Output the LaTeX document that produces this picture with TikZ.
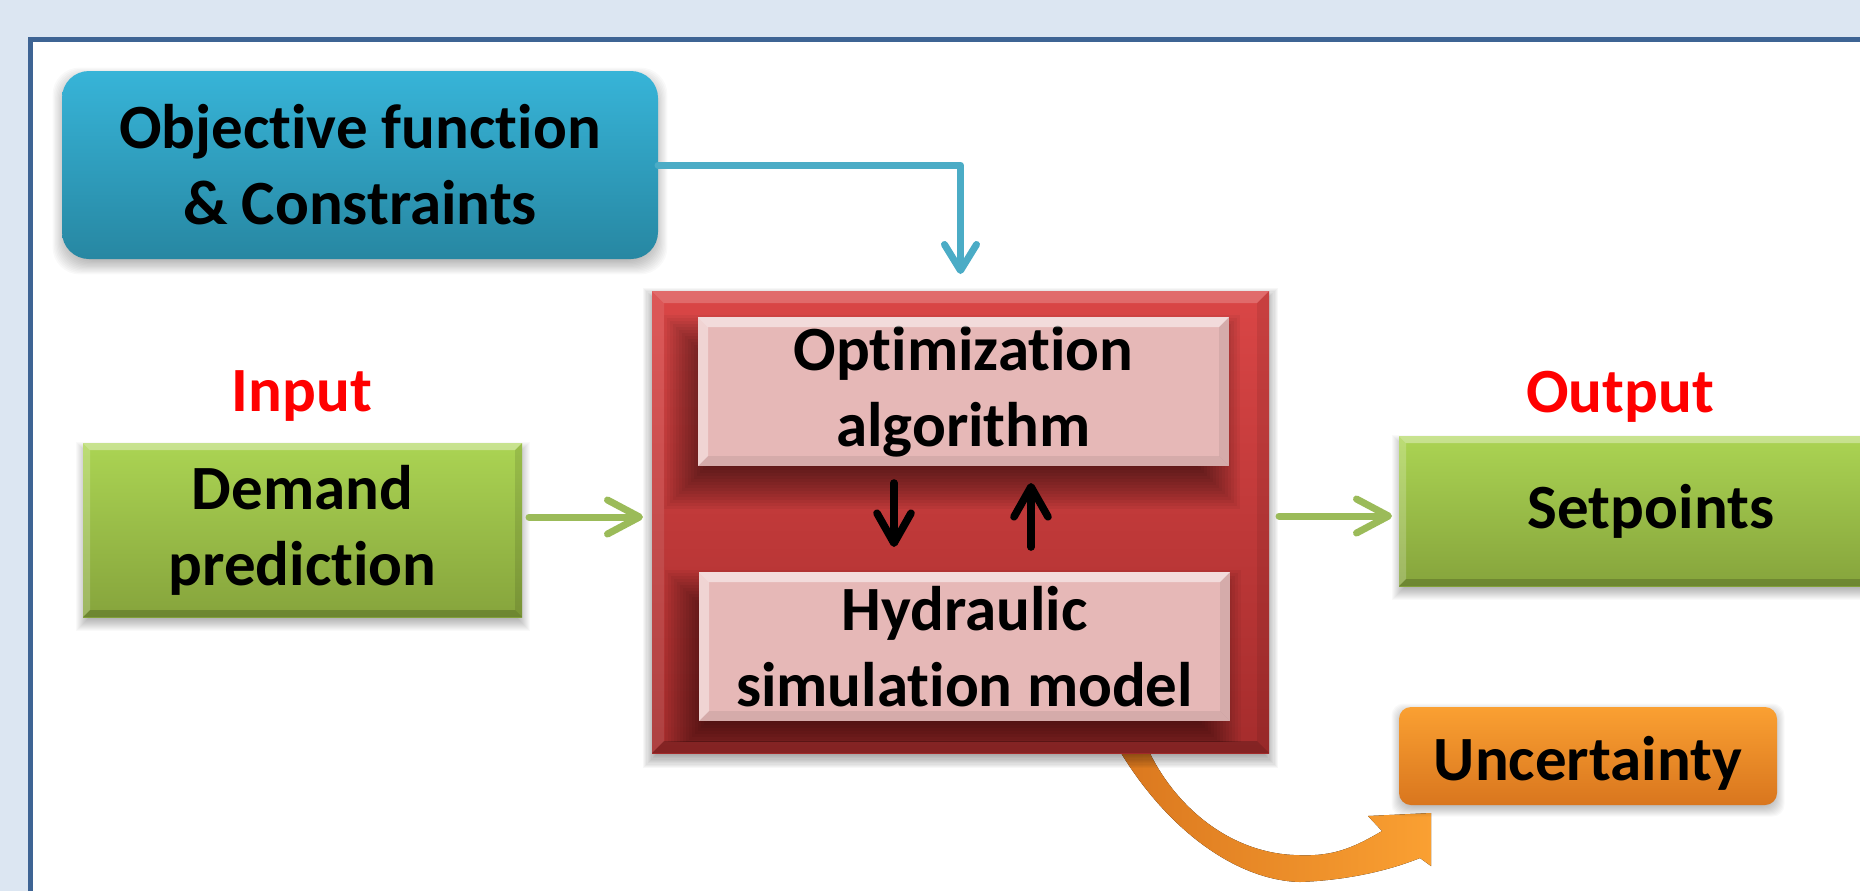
\documentclass[tikz,border=0pt]{standalone}
\usepackage{fontspec}
\setmainfont{Carlito}[Ligatures=NoCommon]
\usetikzlibrary{arrows.meta}

\pgfdeclarelayer{back}
\pgfdeclarelayer{shade}
\pgfdeclarelayer{over}
\pgfdeclarelayer{front}
\pgfsetlayers{back,shade,main,over,front}

\definecolor{bgblue}{HTML}{DCE6F2}
\definecolor{panelline}{HTML}{3E6494}
\definecolor{objtop}{HTML}{37B4D8}
\definecolor{objbot}{HTML}{2787A2}
\definecolor{objline}{HTML}{4BACC6}
\definecolor{redtop}{HTML}{DA4646}
\definecolor{redbot}{HTML}{A52C2C}
\definecolor{pinkfill}{HTML}{E6B8B7}
\definecolor{greentop}{HTML}{ABD453}
\definecolor{greenbot}{HTML}{86A43C}
\definecolor{greenline}{HTML}{9BBB59}
\definecolor{orgtop}{HTML}{FAA032}
\definecolor{orgbot}{HTML}{D9761E}
\definecolor{labelred}{HTML}{FF0000}

% soft shadow: node, x/y offset (pt), corner radius, spread (pt), opacity per layer
\newcommand\softshade[6]{%
  \foreach \k in {0,...,15}{%
    \pgfmathsetmacro\ee{(\k-7.5)*#5/8}%
    \pgfmathsetmacro\xa{#2-\ee}\pgfmathsetmacro\ya{#3-\ee}%
    \pgfmathsetmacro\xb{#2+\ee}\pgfmathsetmacro\yb{#3+\ee}%
    \fill[black,opacity=#6,rounded corners=#4]
      ([xshift=\xa pt,yshift=\ya pt]#1.south west) rectangle
      ([xshift=\xb pt,yshift=\yb pt]#1.north east);
  }}

% bevelled edges: node, size, top / left / bottom / right opacities
\newcommand\bevel[6]{%
  \fill[white,opacity=#3] (#1.north west) -- (#1.north east)
    -- ([xshift=-#2,yshift=-#2]#1.north east) -- ([xshift=#2,yshift=-#2]#1.north west) -- cycle;
  \fill[white,opacity=#4] (#1.north west) -- ([xshift=#2,yshift=-#2]#1.north west)
    -- ([xshift=#2,yshift=#2]#1.south west) -- (#1.south west) -- cycle;
  \fill[black,opacity=#5] (#1.south west) -- ([xshift=#2,yshift=#2]#1.south west)
    -- ([xshift=-#2,yshift=#2]#1.south east) -- (#1.south east) -- cycle;
  \fill[black,opacity=#6] (#1.south east) -- ([xshift=-#2,yshift=#2]#1.south east)
    -- ([xshift=-#2,yshift=-#2]#1.north east) -- (#1.north east) -- cycle;
}

\tikzset{
  box/.style={inner sep=0pt, outer sep=0pt, align=center,
    font=\fontsize{31.5}{38}\selectfont\bfseries},
  objbox/.style={box, rounded corners=13.5pt, top color=objtop, bottom color=objbot,
    minimum width=298pt, minimum height=94pt},
  redbox/.style={box, top color=redtop, bottom color=redbot,
    minimum width=308.5pt, minimum height=231pt},
  pinkbox/.style={box, fill=pinkfill, minimum width=265.5pt, minimum height=74.5pt},
  greenbox/.style={box, top color=greentop, bottom color=greenbot},
  orgbox/.style={box, rounded corners=6pt, top color=orgtop, bottom color=orgbot,
    minimum width=189pt, minimum height=49pt, text height=28pt, text depth=4pt},
  lab/.style={inner sep=0pt, text=labelred, font=\fontsize{31.5}{38}\selectfont\bfseries},
  bluearr/.style={draw=objline, line width=3.5pt, line cap=round, line join=round,
    -{Straight Barb[length=13pt,width=16pt,round]}},
  greenarr/.style={draw=greenline, line width=3.5pt, line cap=round, line join=round,
    -{Straight Barb[length=16pt,width=17pt,round]}},
  blkarr/.style={draw=black, line width=3.8pt, line cap=round, line join=round,
    -{Straight Barb[length=15pt,width=17pt,round]}},
}

\begin{document}
\begin{tikzpicture}[x=0.5pt,y=-0.5pt]
\useasboundingbox (0,0) rectangle (1860,891);

% page background and framed panel
\begin{pgfonlayer}{back}
  \fill[bgblue] (0,0) rectangle (1860,891);
  \fill[white] (30,39) rectangle (1860,891);
  \draw[panelline,line width=2.5pt] (30.5,891) -- (30.5,39.5) -- (1860,39.5);
  % curved block arrow leaving the model block
  \fill[left color=orgbot, right color=orgtop]
    (1108,730) .. controls (1155,820) and (1230,880) .. (1300,882)
    .. controls (1350,880) and (1390,870) .. (1420,858)
    -- (1431,866) -- (1431,813) -- (1368,816) -- (1382,831)
    .. controls (1350,850) and (1330,857) .. (1294,855)
    .. controls (1225,852) and (1165,800) .. (1140,730) -- cycle;
\end{pgfonlayer}

% blocks
\node[objbox] (obj) at (360,165) {Objective function\\\& Constraints};
\node[redbox] (red) at (960.5,522) {};
\bevel{red}{6pt}{0.2}{0.1}{0.2}{0.08}
\node[greenbox, minimum width=219.5pt, minimum height=87pt] (dem) at (302.5,530) {Demand\\prediction};
\bevel{dem}{3.5pt}{0.35}{0.2}{0.18}{0.1}
\node[greenbox, minimum width=240pt, minimum height=75pt, text height=21pt, text depth=4pt]
  (setp) at (1639,511) {\hspace*{12pt}Setpoints};
\bevel{setp}{3.5pt}{0.35}{0.2}{0.18}{0.1}
\node[orgbox] (unc) at (1588,756) {Uncertainty};
\node[lab, anchor=base] (inp) at (302,411) {Input};
\node[lab, anchor=base] (outp) at (1620,412) {Output};

% inner blocks of the model
\begin{pgfonlayer}{front}
  \node[pinkbox] (opt) at (963.5,391.5) {Optimization\\algorithm};
  \bevel{opt}{5pt}{0.5}{0.4}{0.07}{0.07}
  \node[pinkbox] (hyd) at (964.5,646.5) {Hydraulic\\simulation model};
  \bevel{hyd}{5pt}{0.5}{0.4}{0.07}{0.07}
  \draw[blkarr, shorten <=8.5pt, shorten >=12.5pt]
    ([xshift=-34.75pt]opt.south) -- ([xshift=-34.75pt]opt.south |- hyd.north);
  \draw[blkarr, shorten <=12.5pt, shorten >=8.5pt]
    ([xshift=33.75pt]opt.south |- hyd.north) -- ([xshift=33.75pt]opt.south);
\end{pgfonlayer}

% shadows cast by the inner blocks onto the model block
\begin{pgfonlayer}{over}
  \begin{scope}
    \clip ([xshift=6pt,yshift=-6pt]red.north west) rectangle ([xshift=-6pt,yshift=6pt]red.south east);
    \softshade{opt}{-6}{-10}{0pt}{12}{0.045}
    \softshade{hyd}{-6}{-10}{0pt}{12}{0.045}
  \end{scope}
\end{pgfonlayer}

% drop shadows of the blocks
\begin{pgfonlayer}{shade}
  \softshade{obj}{0}{-3}{13.5pt}{5}{0.025}
  \softshade{red}{0}{-3}{0pt}{5}{0.03}
  \softshade{dem}{0}{-3}{0pt}{4}{0.025}
  \softshade{setp}{0}{-3}{0pt}{4}{0.025}
  \softshade{unc}{0}{-2}{6pt}{4}{0.025}
\end{pgfonlayer}

% connectors
\draw[bluearr, shorten >=8.5pt] (obj.east) -| (red.north);
\coordinate (dA) at ([xshift=3.5pt,yshift=6.5pt]dem.east);
\draw[greenarr, shorten >=4.5pt] (dA) -- (dA -| red.west);
\coordinate (sA) at ([xshift=5pt,yshift=3pt]red.east);
\draw[greenarr, shorten >=3.5pt] (sA) -- (sA -| setp.west);
\end{tikzpicture}
\end{document}
